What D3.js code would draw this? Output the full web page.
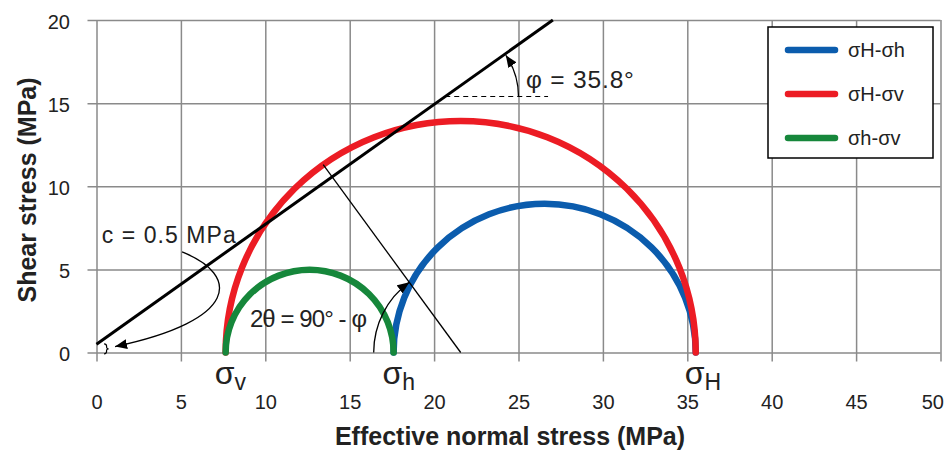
<!DOCTYPE html>
<html>
<head>
<meta charset="utf-8">
<script src="https://cdn.jsdelivr.net/npm/d3@7"></script>
<style>
  body { margin: 0; background: #fff; }
  svg { font-family: "Liberation Sans", Arial, sans-serif; }
</style>
</head>
<body>
<div id="chart"></div>
<script>
// data
var xTicks = [0, 5, 10, 15, 20, 25, 30, 35, 40, 45, 50];
var yTicks = [0, 5, 10, 15, 20];

// principal effective stresses (MPa)
var stressNames = ["v", "h", "H"];
var stressValues = [7.65, 17.6, 35.5];

// Mohr circles: [from, to] index into stressValues
var circleLabels = ["σH-σh", "σH-σv", "σh-σv"];
var circleFrom = [1, 0, 0];
var circleTo = [2, 2, 1];
var circleColors = ["#0b5cad", "#ec1c24", "#16873b"];

// failure envelope
var cohesion = 0.5;       // MPa
var frictionAngle = 35.8; // degrees

var margin = {top: 20, right: 3.5, bottom: 98.5, left: 96.5},
    width = 944 - margin.left - margin.right,
    height = 451 - margin.top - margin.bottom;

var x = d3.scaleLinear().domain([0, 50]).range([0, width]);
var y = d3.scaleLinear().domain([0, 20]).range([height, 0]);

var svg = d3.select("#chart").append("svg")
    .attr("width", 944)
    .attr("height", 451)
  .append("g")
    .attr("transform", "translate(" + margin.left + "," + margin.top + ")");

var defs = svg.append("defs");
defs.append("marker")
    .attr("id", "arrow")
    .attr("viewBox", "0 0 12 10")
    .attr("refX", 12).attr("refY", 5)
    .attr("markerWidth", 12).attr("markerHeight", 10)
    .attr("markerUnits", "userSpaceOnUse")
    .attr("orient", "auto")
  .append("path")
    .attr("d", "M0,0L12,5L0,10z")
    .attr("fill", "#000");

var gridColor = "#8a8a8a";

// x axis + vertical grid
var xAxis = svg.append("g")
    .attr("transform", "translate(0," + height + ")")
    .call(d3.axisBottom(x).tickValues(xTicks).tickSize(9).tickPadding(33.5));
xAxis.select(".domain").remove();
xAxis.selectAll("line").attr("y1", -height).attr("stroke", gridColor).attr("stroke-width", 1.5);
xAxis.selectAll("text").attr("font-size", 20).attr("fill", "#222")
    .style("font-family", "'Liberation Sans', Arial, sans-serif");
// last label would run off the page
xAxis.selectAll("text").filter(function(d) { return d === 50; })
    .attr("text-anchor", "end").attr("x", 3);

// y axis + horizontal grid
var yAxis = svg.append("g")
    .call(d3.axisLeft(y).tickValues(yTicks).tickSize(9).tickPadding(17.5));
yAxis.select(".domain").remove();
yAxis.selectAll("line").attr("x1", width).attr("stroke", gridColor).attr("stroke-width", 1.5);
yAxis.selectAll("text").attr("font-size", 20).attr("fill", "#222").attr("dy", "0.4em")
    .style("font-family", "'Liberation Sans', Arial, sans-serif");

// axis titles
svg.append("text")
    .attr("text-anchor", "middle")
    .attr("x", 413.5)
    .attr("y", height + 92.5)
    .attr("font-size", 25)
    .attr("font-weight", "bold")
    .attr("fill", "#222")
    .text("Effective normal stress (MPa)");

svg.append("text")
    .attr("text-anchor", "middle")
    .attr("transform", "rotate(-90)")
    .attr("x", -170)
    .attr("y", -margin.left + 36)
    .attr("font-size", 25)
    .attr("font-weight", "bold")
    .attr("fill", "#222")
    .text("Shear stress (MPa)");

// Mohr semicircles
var circles = circleLabels.map(function(d, i) {
  return {
    label: d,
    a: stressValues[circleFrom[i]],
    b: stressValues[circleTo[i]],
    color: circleColors[i]
  };
});

svg.append("g").selectAll("path")
    .data(circles)
    .enter().append("path")
    .attr("d", function(d) {
      var rx = (x(d.b) - x(d.a)) / 2;
      var ry = y(0) - y((d.b - d.a) / 2);
      return "M" + x(d.a) + "," + y(0) + "A" + rx + "," + ry + " 0 0 1 " + x(d.b) + "," + y(0);
    })
    .attr("fill", "none")
    .attr("stroke", function(d) { return d.color; })
    .attr("stroke-width", 6.5)
    .attr("stroke-linecap", "round");

// failure envelope
var tanPhi = Math.tan(frictionAngle * Math.PI / 180);
var sigmaTop = (20 - cohesion) / tanPhi;
svg.append("line")
    .attr("x1", x(0)).attr("y1", y(cohesion))
    .attr("x2", x(sigmaTop)).attr("y2", y(20))
    .attr("stroke", "#000")
    .attr("stroke-width", 3);

// radius of the sigmaH-sigmav circle to the failure point
var red = circles[1];
var cRed = (red.a + red.b) / 2, rRed = (red.b - red.a) / 2;
var phiRad = frictionAngle * Math.PI / 180;
var sFail = cRed - rRed * Math.sin(phiRad),
    tFail = rRed * Math.cos(phiRad);
svg.append("line")
    .attr("x1", x(sFail)).attr("y1", y(tFail))
    .attr("x2", x(cRed)).attr("y2", y(0))
    .attr("stroke", "#000")
    .attr("stroke-width", 1.3);

// 2θ arc
var ang2 = Math.atan2(y(0) - y(tFail), x(cRed) - x(sFail)); // from the negative σ direction
var R2 = 87;
svg.append("path")
    .attr("d", "M" + (x(cRed) - R2) + "," + y(0) +
      "A" + R2 + "," + R2 + " 0 0 1 " +
      (x(cRed) - R2 * Math.cos(ang2)) + "," + (y(0) - R2 * Math.sin(ang2)))
    .attr("fill", "none")
    .attr("stroke", "#000")
    .attr("stroke-width", 1.3)
    .attr("marker-end", "url(#arrow)");

svg.append("text")
    .attr("x", x(9.09)).attr("y", y(1.52))
    .attr("font-size", 24)
    .attr("textLength", 117)
    .attr("lengthAdjust", "spacing")
    .attr("fill", "#222")
    .text("2θ = 90° - φ");

// φ annotation
var tauRef = 15.4;
var sRef = (tauRef - cohesion) / tanPhi;
svg.append("line")
    .attr("x1", x(sRef)).attr("y1", y(tauRef))
    .attr("x2", x(26.75)).attr("y2", y(tauRef))
    .attr("stroke", "#000")
    .attr("stroke-width", 1.2)
    .attr("stroke-dasharray", "5,4");

var angPhi = Math.atan2(y(0) - y(tanPhi), x(1) - x(0));
var Rp = x(25) - x(sRef);
svg.append("path")
    .attr("d", "M" + (x(sRef) + Rp) + "," + y(tauRef) +
      "A" + Rp + "," + Rp + " 0 0 0 " +
      (x(sRef) + Rp * Math.cos(angPhi - 0.02)) + "," + (y(tauRef) - Rp * Math.sin(angPhi - 0.02)))
    .attr("fill", "none")
    .attr("stroke", "#000")
    .attr("stroke-width", 1.3)
    .attr("marker-end", "url(#arrow)");

svg.append("text")
    .attr("x", x(25.44)).attr("y", y(15.9))
    .attr("font-size", 24.5)
    .attr("textLength", 108)
    .attr("lengthAdjust", "spacing")
    .attr("fill", "#222")
    .text("φ = " + frictionAngle + "°");

// cohesion annotation
svg.append("text")
    .attr("x", x(0.31)).attr("y", y(6.57))
    .attr("font-size", 23)
    .attr("textLength", 134)
    .attr("lengthAdjust", "spacing")
    .attr("fill", "#222")
    .text("c = " + cohesion + " MPa");

svg.append("path")
    .attr("d", "M" + x(5.07) + "," + y(6.05) +
      "C" + x(8.5) + "," + y(4.66) + " " + x(8.5) + "," + y(1.95) + " " + x(1.1) + "," + y(0.36))
    .attr("fill", "none")
    .attr("stroke", "#000")
    .attr("stroke-width", 1.3)
    .attr("marker-end", "url(#arrow)");

// small brace marking c
var bx = x(0.45), by0 = y(cohesion), by1 = y(0);
var bm = (by0 + by1) / 2;
svg.append("path")
    .attr("d", "M" + bx + "," + by0 + "q2.5,0 2.5,2.5 v1 q0,1.5 2,1.5 q-2,0 -2,1.5 v1 q0,2.5 -2.5,2.5")
    .attr("transform", "translate(0," + (bm - by0 - 4.5) + ")")
    .attr("fill", "none")
    .attr("stroke", "#000")
    .attr("stroke-width", 1.2);

// principal stress labels
var sLabels = svg.append("g").selectAll("text")
    .data(stressNames)
    .enter().append("text")
    .attr("x", function(d, i) { return x(stressValues[i]) - 11; })
    .attr("y", height + 31.5)
    .attr("font-size", 32)
    .attr("fill", "#222");
sLabels.append("tspan").text("σ");
sLabels.append("tspan")
    .attr("font-size", 23)
    .attr("dy", 6)
    .text(function(d) { return d; });

// legend
var legend = svg.append("g")
    .attr("transform", "translate(" + (768 - margin.left) + "," + (27 - margin.top) + ")");
legend.append("rect")
    .attr("width", 165).attr("height", 131)
    .attr("fill", "#fff")
    .attr("stroke", "#000")
    .attr("stroke-width", 1.5);
var rows = legend.selectAll("g.row")
    .data(circles)
    .enter().append("g")
    .attr("class", "row")
    .attr("transform", function(d, i) { return "translate(0," + (23 + i * 44) + ")"; });
rows.append("line")
    .attr("x1", 20).attr("x2", 67)
    .attr("stroke", function(d) { return d.color; })
    .attr("stroke-width", 6.5)
    .attr("stroke-linecap", "round");
rows.append("text")
    .attr("x", 80)
    .attr("dy", "0.36em")
    .attr("font-size", 20)
    .attr("fill", "#222")
    .text(function(d) { return d.label; });
</script>
</body>
</html>
